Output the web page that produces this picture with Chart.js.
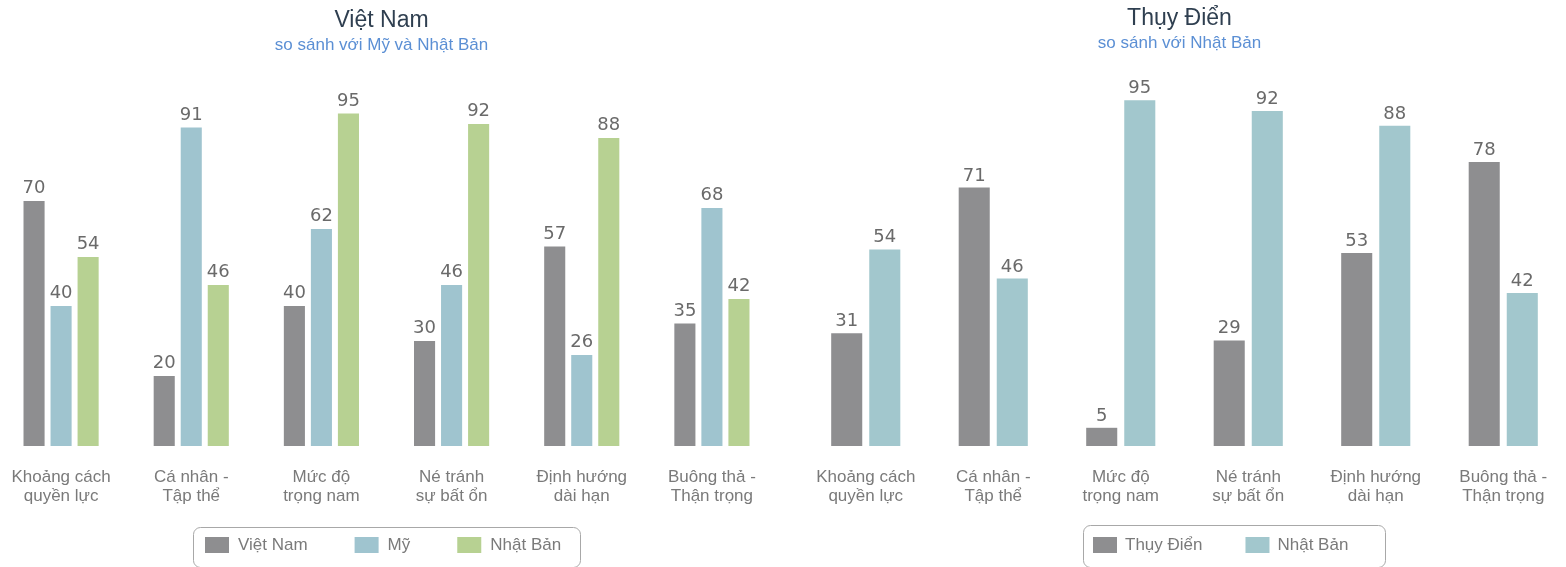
<!DOCTYPE html>
<html>
<head>
<meta charset="utf-8">
<script src="https://cdn.jsdelivr.net/npm/chart.js@4.4.1/dist/chart.umd.min.js"></script>
<style>
  html, body { margin: 0; padding: 0; background: #ffffff; width: 1566px; height: 567px; overflow: hidden; position: relative; }
  .wrap { position: absolute; top: 0; height: 567px; }
  #w1 { left: -14px; width: 791px; }
  #w2 { left: 792px; width: 775px; }
</style>
</head>
<body>
<div class="wrap" id="w1"><canvas id="c1"></canvas></div>
<div class="wrap" id="w2"><canvas id="c2"></canvas></div>
<script>
// ---- Data ----
const categories = [
  ["Khoảng cách", "quyền lực"],
  ["Cá nhân -", "Tập thể"],
  ["Mức độ", "trọng nam"],
  ["Né tránh", "sự bất ổn"],
  ["Định hướng", "dài hạn"],
  ["Buông thả -", "Thận trọng"]
];
const vietNam = [70, 20, 40, 30, 57, 35];
const my = [40, 91, 62, 46, 26, 68];
const nhatBan = [54, 46, 95, 92, 88, 42];
const thuyDien = [31, 71, 5, 29, 53, 78];
const nhatBan2 = [54, 46, 95, 92, 88, 42];

const FONT = '"Liberation Sans", Arial, sans-serif';
const GRAY = '#8e8e90', BLUE = '#9fc4cf', GREEN = '#b7d192', BLUE2 = '#a2c7cd';

const valueLabels = {
  id: 'valueLabels',
  afterDatasetsDraw(chart, args, opts) {
    const ctx = chart.ctx;
    ctx.save();
    ctx.font = '18px "DejaVu Sans", sans-serif';
    ctx.fillStyle = '#6a6a6a';
    ctx.textAlign = 'center';
    ctx.textBaseline = 'alphabetic';
    chart.data.datasets.forEach((ds, i) => {
      const meta = chart.getDatasetMeta(i);
      meta.data.forEach((el, j) => {
        ctx.fillText(String(ds.data[j]), el.x, el.y - opts.offset);
      });
    });
    ctx.restore();
  }
};

const boxLegend = {
  id: 'boxLegend',
  afterDraw(chart, args, opts) {
    const ctx = chart.ctx;
    ctx.save();
    ctx.strokeStyle = '#a8a8a8';
    ctx.lineWidth = 1;
    ctx.beginPath();
    ctx.roundRect(opts.left + 0.5, opts.top + 0.5, opts.width, opts.height, 7);
    ctx.stroke();
    ctx.font = '17px ' + FONT;
    ctx.textBaseline = 'middle';
    ctx.textAlign = 'left';
    let x = opts.left + opts.padL;
    const cy = opts.top + opts.cy;
    chart.data.datasets.forEach(ds => {
      ctx.fillStyle = ds.backgroundColor;
      ctx.fillRect(x, cy - 8, 24, 16);
      ctx.fillStyle = '#7a7a7a';
      ctx.fillText(ds.label, x + 24 + opts.textGap, cy);
      x += 24 + opts.textGap + ctx.measureText(ds.label).width + opts.gap;
    });
    ctx.restore();
  }
};

function makeChart(id, datasets, opt) {
  return new Chart(document.getElementById(id), {
    type: 'bar',
    data: { labels: categories, datasets },
    plugins: [valueLabels, boxLegend],
    options: {
      animation: false,
      responsive: true,
      maintainAspectRatio: false,
      layout: { padding: 0 },
      datasets: { bar: { categoryPercentage: opt.catPct, barPercentage: opt.barPct } },
      plugins: {
        legend: { display: false },
        tooltip: { enabled: false },
        title: {
          display: true, text: opt.title, color: '#2f3f50',
          font: { family: FONT, size: 23, weight: 'normal', lineHeight: 1.2 },
          padding: { top: opt.titleTop, bottom: 1 }
        },
        subtitle: {
          display: true, text: opt.subtitle, color: '#5b8fd4',
          font: { family: FONT, size: 17, weight: 'normal', lineHeight: 1.2 },
          padding: { top: 0, bottom: opt.subBottom }
        },
        valueLabels: { offset: opt.labelOffset },
        boxLegend: opt.legend
      },
      scales: {
        x: {
          grid: { display: false, drawTicks: false },
          border: { display: false },
          ticks: { color: '#7a7a7a', font: { family: FONT, size: 17, lineHeight: '19px' }, padding: 22, maxRotation: 0, autoSkip: false },
          afterFit(s) { s.height = 121; s.paddingLeft = 0; s.paddingRight = 0; }
        },
        y: {
          min: 0, max: 100,
          grid: { display: false },
          border: { display: false },
          ticks: { display: false },
          afterFit(s) { s.width = 10; }
        }
      }
    }
  });
}

makeChart('c1', [
  { label: 'Việt Nam', data: vietNam, backgroundColor: GRAY },
  { label: 'Mỹ', data: my, backgroundColor: BLUE },
  { label: 'Nhật Bản', data: nhatBan, backgroundColor: GREEN }
], {
  title: 'Việt Nam', subtitle: 'so sánh với Mỹ và Nhật Bản',
  catPct: 0.623, barPct: 0.78, titleTop: 7, subBottom: 40, labelOffset: 8,
  legend: { left: 207, top: 527, width: 387, height: 40, padL: 12, textGap: 9, gap: 47, cy: 18 }
});

makeChart('c2', [
  { label: 'Thụy Điển', data: thuyDien, backgroundColor: GRAY },
  { label: 'Nhật Bản', data: nhatBan2, backgroundColor: BLUE2 }
], {
  title: 'Thụy Điển', subtitle: 'so sánh với Nhật Bản',
  catPct: 0.597, barPct: 0.816, titleTop: 5, subBottom: 28, labelOffset: 7,
  legend: { left: 291, top: 525, width: 302, height: 42, padL: 10, textGap: 8, gap: 43, cy: 20 }
});
</script>
</body>
</html>
